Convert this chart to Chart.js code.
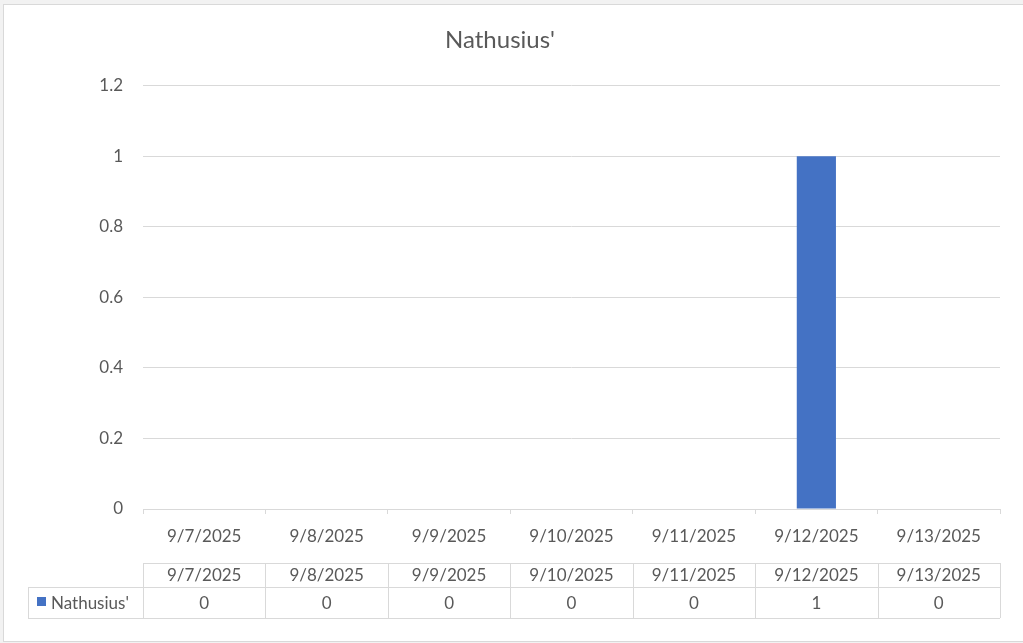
<!DOCTYPE html>
<html>
<head>
<meta charset="utf-8">
<script src="https://cdn.jsdelivr.net/npm/chart.js@4"></script>
<style>
  html, body { margin: 0; padding: 0; background: #f2f2f2; }
  #frame {
    position: absolute; left: 3px; top: 4px; width: 1019px; height: 636px;
    background: #fff; border: 1px solid #d9d9d9;
  }
  #wrap { position: absolute; left: -4px; top: -5px; width: 1023px; height: 643px; }
</style>
</head>
<body>
<div id="frame">
  <div id="wrap"><canvas id="chart" width="1023" height="643"></canvas></div>
</div>
<script>
const categories = ["9/7/2025", "9/8/2025", "9/9/2025", "9/10/2025", "9/11/2025", "9/12/2025", "9/13/2025"];
const seriesName = "Nathusius'";
const seriesValues = [0, 0, 0, 0, 0, 1, 0];
const yTicks = [0, 0.2, 0.4, 0.6, 0.8, 1, 1.2];

const FONT = "Lato, 'Open Sans', sans-serif";
const TEXT = "#595959";
const LINE = "#d9d9d9";
const BAR = "#4472c4";
const SIZE = 17;

// draws the Excel-style data table under the x axis
const dataTable = {
  id: "dataTable",
  afterDraw(chart) {
    const ctx = chart.ctx;
    const x = chart.scales.x;
    const left = x.left, right = x.right;
    const step = (right - left) / categories.length;
    const rowTop = 563, rowMid = 587, rowBot = 618, labelLeft = 28;

    ctx.save();
    ctx.strokeStyle = LINE;
    ctx.lineWidth = 1;
    ctx.beginPath();
    // horizontal lines
    ctx.moveTo(left, rowTop + 0.5); ctx.lineTo(right, rowTop + 0.5);
    ctx.moveTo(labelLeft, rowMid + 0.5); ctx.lineTo(right, rowMid + 0.5);
    ctx.moveTo(labelLeft, rowBot + 0.5); ctx.lineTo(right, rowBot + 0.5);
    // vertical lines
    ctx.moveTo(labelLeft + 0.5, rowMid); ctx.lineTo(labelLeft + 0.5, rowBot);
    for (let i = 0; i <= categories.length; i++) {
      const px = Math.round(left + i * step) + 0.5;
      ctx.moveTo(px, rowTop); ctx.lineTo(px, rowBot);
    }
    ctx.stroke();

    ctx.fillStyle = TEXT;
    ctx.font = SIZE + "px " + FONT;
    ctx.textAlign = "center";
    ctx.textBaseline = "middle";
    categories.forEach((c, i) => {
      const cx = x.getPixelForValue(i);
      ctx.fillText(c, cx, (rowTop + rowMid) / 2 + 1);
      ctx.fillText(String(seriesValues[i]), cx, (rowMid + rowBot) / 2 + 1);
    });

    ctx.fillStyle = BAR;
    ctx.fillRect(37, 597, 9, 9);
    ctx.fillStyle = TEXT;
    ctx.textAlign = "left";
    ctx.fillText(seriesName, 51, (rowMid + rowBot) / 2 + 1);
    ctx.restore();
  }
};

new Chart(document.getElementById("chart"), {
  type: "bar",
  data: {
    labels: categories,
    datasets: [{
      label: seriesName,
      data: seriesValues,
      backgroundColor: BAR,
      borderWidth: 0,
      categoryPercentage: 0.32,
      barPercentage: 1
    }]
  },
  options: {
    responsive: false,
    animation: false,
    layout: { padding: { left: 0, right: 23, top: 0, bottom: 0 } },
    plugins: {
      legend: { display: false },
      tooltip: { enabled: false },
      title: {
        display: true,
        text: seriesName,
        color: TEXT,
        font: { family: FONT, size: 24, weight: "normal" },
        padding: { top: 26, bottom: 31 }
      }
    },
    scales: {
      x: {
        grid: { display: true, drawOnChartArea: false, color: LINE, tickLength: 5, offset: true },
        border: { color: LINE },
        ticks: { color: TEXT, font: { family: FONT, size: SIZE }, padding: 12, maxRotation: 0 },
        afterFit(scale) { scale.height = 134; }
      },
      y: {
        min: 0,
        max: 1.2,
        afterBuildTicks(scale) { scale.ticks = yTicks.map(v => ({ value: v })); },
        grid: { color: LINE, drawTicks: false },
        border: { display: false },
        ticks: { color: TEXT, font: { family: FONT, size: SIZE }, padding: 20, callback: v => String(v) },
        afterFit(scale) { scale.width = 143; }
      }
    }
  },
  plugins: [dataTable]
});
</script>
</body>
</html>
